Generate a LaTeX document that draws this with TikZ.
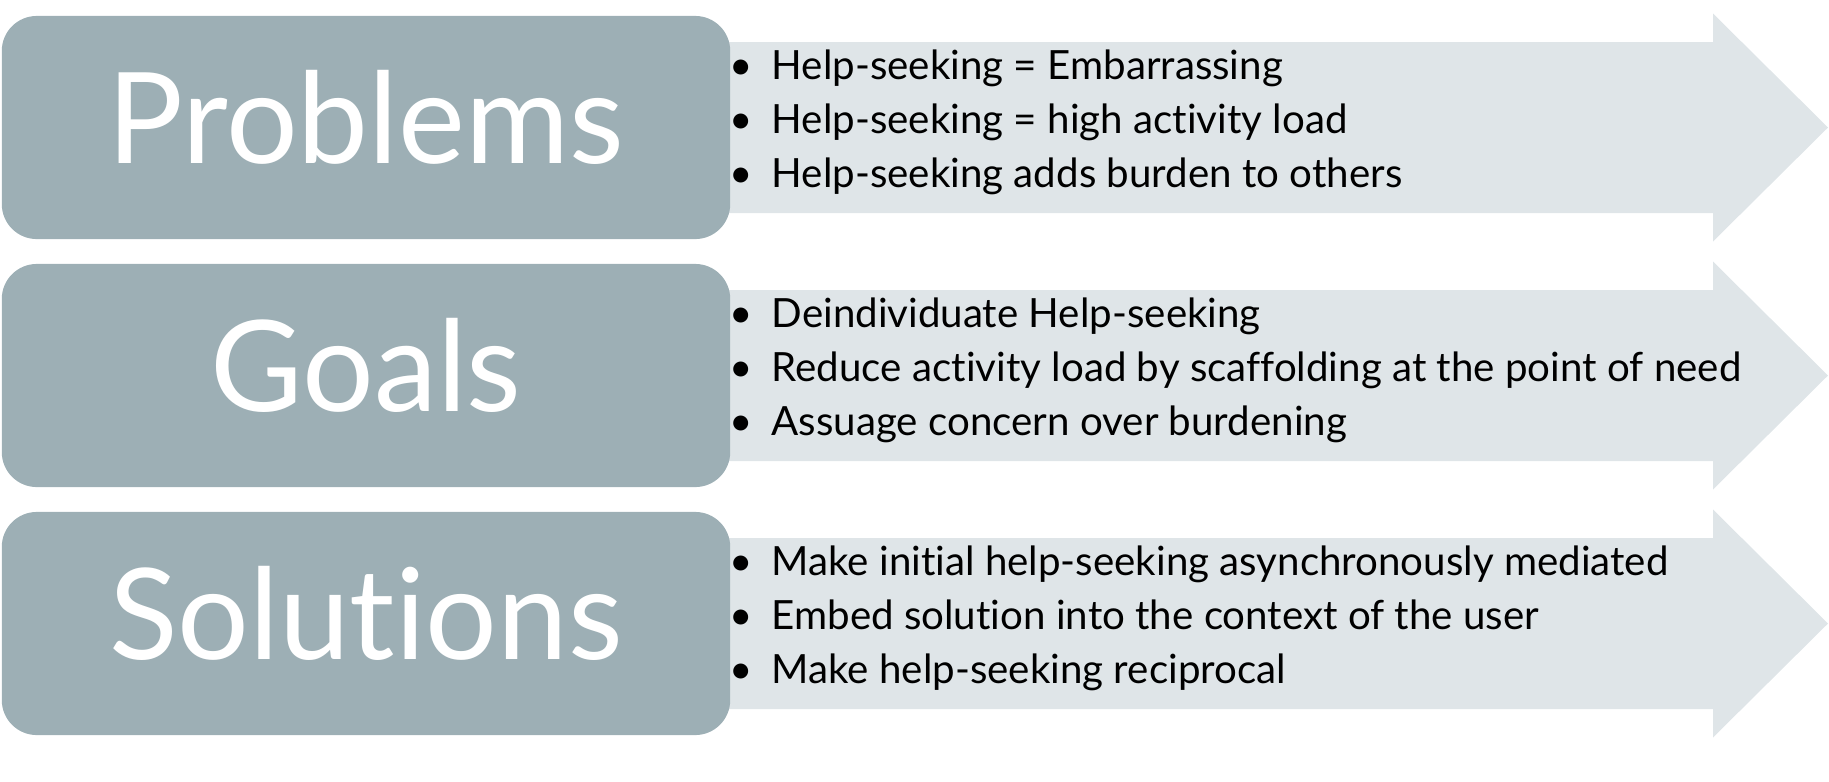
\documentclass[tikz,border=0pt]{standalone}
\usepackage{fontspec}
\setmainfont[Ligatures=NoCommon]{Lato}
\usetikzlibrary{positioning}
\definecolor{boxgray}{HTML}{9DAFB5}
\definecolor{arrowgray}{HTML}{DFE5E8}

\begin{document}
\begin{tikzpicture}[x=0.01cm, y=-0.01cm,
    headbox/.style={fill=boxgray, draw=none, rounded corners=0.35cm, minimum width=7.28cm, minimum height=2.23cm, inner sep=0pt},
    headtext/.style={anchor=base, text=white, inner sep=0pt, font=\fontsize{36}{40}\selectfont},
    itemtext/.style={anchor=base west, inner sep=0pt, font=\fontsize{11.45}{13}\selectfont}]
    \useasboundingbox (0,0) rectangle (1829,781);
    \foreach \row/\name/\title/\ia/\ib/\ic in {
        0/prob/Problems/Help-seeking = Embarrassing/Help-seeking = high activity load/Help-seeking adds burden to others,
        1/goal/Goals/Deindividuate Help-seeking/Reduce activity load by scaffolding at the point of need/Assuage concern over burdening,
        2/sol/Solutions/Make initial help-seeking asynchronously mediated/Embed solution into the context of the user/Make help-seeking reciprocal} {
        \pgfmathsetmacro{\cy}{127.5+248*\row}
        % Arrow
        \fill[arrowgray] (700,\cy-85.5) -- (1713,\cy-85.5) -- (1713,\cy-114) -- (1828,\cy)
            -- (1713,\cy+114) -- (1713,\cy+85.5) -- (700,\cy+85.5) -- cycle;
        % Box
        \node[headbox] (\name) at (366,\cy) {};
        \node[headtext] (\name-title) at (366,\cy+35.5) {\title};
        % Items
        \node[itemtext] (\name-a) at (729,\cy-48) {\makebox[0.42cm][l]{\textbullet}\ia};
        \node[itemtext] (\name-b) at (729,\cy+6) {\makebox[0.42cm][l]{\textbullet}\ib};
        \node[itemtext] (\name-c) at (729,\cy+60) {\makebox[0.42cm][l]{\textbullet}\ic};
    }
\end{tikzpicture}
\end{document}
